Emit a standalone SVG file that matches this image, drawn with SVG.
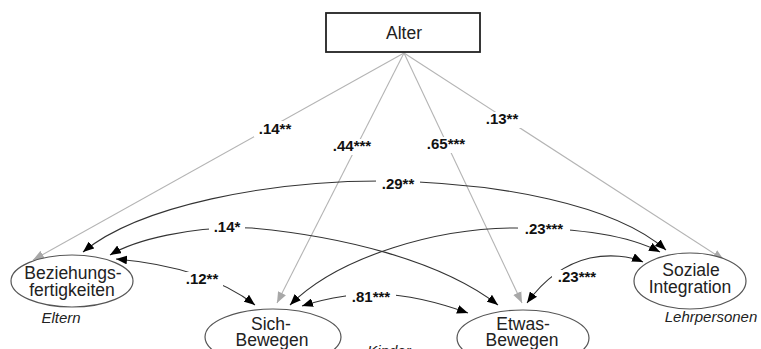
<svg xmlns="http://www.w3.org/2000/svg" width="761" height="349" viewBox="0 0 761 349">
<style>
.node{fill:#fff;stroke:#555;stroke-width:1.2}
.box{fill:#fff;stroke:#222;stroke-width:1.8}
.nt{font-family:"Liberation Sans",Arial,sans-serif;font-size:17.5px;fill:#222;text-anchor:middle}
.grp{font-family:"Liberation Sans",Arial,sans-serif;font-size:15px;font-style:italic;fill:#222;text-anchor:middle}
.lab{font-family:"Liberation Sans",Arial,sans-serif;font-size:15px;font-weight:bold;fill:#111;text-anchor:middle}
.bg{fill:#fff}
.g{fill:none;stroke:#b4b4b4;stroke-width:1.1;marker-end:url(#ag)}
.c{fill:none;stroke:#333;stroke-width:1.1;marker-start:url(#ab);marker-end:url(#ab)}
</style>
<defs>
<marker id="ab" viewBox="0 0 10 8" refX="10" refY="4" markerWidth="11" markerHeight="9" markerUnits="userSpaceOnUse" orient="auto-start-reverse"><path d="M0,0 L10,4 L0,8 z" fill="#000"/></marker>
<marker id="ag" viewBox="0 0 10 8" refX="10" refY="4" markerWidth="11" markerHeight="9" markerUnits="userSpaceOnUse" orient="auto"><path d="M0,0 L10,4 L0,8 z" fill="#a8a8a8"/></marker>
</defs>
<rect width="761" height="349" fill="#fff"/>
<g id="connectors">
<path class="g" d="M404,53 L33,260"/>
<path class="g" d="M404,53 L277,303"/>
<path class="g" d="M404,53 L522,303"/>
<path class="g" d="M404,53 L724,260"/>
<path class="c" d="M83,252 C140,205 270,181 380,181 C500,182 615,205 666,250"/>
<path class="c" d="M110,255 C135,240 190,226 252,228 C340,236 440,260 498,305"/>
<path class="c" d="M116,259 C150,262 210,270 255,305"/>
<path class="c" d="M290,305 C340,255 440,228 515,228 C580,228 630,236 660,252"/>
<path class="c" d="M302,306 C330,297 360,293 380,294 C410,295 440,303 468,313"/>
<path class="c" d="M527,303 C540,285 560,265 590,258 C610,254 630,256 643,262"/>
<g id="labels">
<rect class="bg" x="254" y="121" width="43" height="16"/><text class="lab" x="275" y="134">.14**</text>
<rect class="bg" x="328" y="139" width="49" height="16"/><text class="lab" x="352" y="151">.44***</text>
<rect class="bg" x="421" y="137" width="50" height="16"/><text class="lab" x="446" y="149">.65***</text>
<rect class="bg" x="481" y="112" width="42" height="16"/><text class="lab" x="502" y="124">.13**</text>
<rect class="bg" x="376" y="177" width="44" height="16"/><text class="lab" x="398" y="189">.29**</text>
<rect class="bg" x="209" y="220" width="36" height="16"/><text class="lab" x="227" y="232">.14*</text>
<rect class="bg" x="518" y="222" width="52" height="16"/><text class="lab" x="544" y="234">.23***</text>
<rect class="bg" x="181" y="272" width="42" height="16"/><text class="lab" x="202" y="284">.12**</text>
<rect class="bg" x="346" y="290" width="50" height="16"/><text class="lab" x="371" y="302">.81***</text>
<rect class="bg" x="552" y="270" width="50" height="16"/><text class="lab" x="577" y="282">.23***</text>
</g>
</g>
<g id="alter">
<rect class="box" x="326" y="13" width="154" height="39"/>
<text class="nt" x="404" y="39" font-size="17">Alter</text>
</g>
<g id="beziehung">
<ellipse class="node" cx="72" cy="281" rx="61" ry="26"/>
<text class="nt" x="73" y="279">Beziehungs-</text>
<text class="nt" x="72" y="296">fertigkeiten</text>
<text class="grp" x="61" y="323">Eltern</text>
</g>
<g id="sich">
<ellipse class="node" cx="273" cy="337" rx="68" ry="28"/>
<text class="nt" x="271" y="330">Sich-</text>
<text class="nt" x="272" y="346">Bewegen</text>
</g>
<g id="etwas">
<ellipse class="node" cx="523" cy="338" rx="66" ry="28"/>
<text class="nt" x="523" y="330">Etwas-</text>
<text class="nt" x="522" y="346">Bewegen</text>
</g>
<g id="soziale">
<ellipse class="node" cx="690" cy="281" rx="56" ry="28"/>
<text class="nt" x="691" y="276">Soziale</text>
<text class="nt" x="690" y="293">Integration</text>
<text class="grp" x="711" y="322">Lehrpersonen</text>
</g>
<g id="kinder">
<text class="grp" x="389" y="356">Kinder</text>
</g>
</svg>
